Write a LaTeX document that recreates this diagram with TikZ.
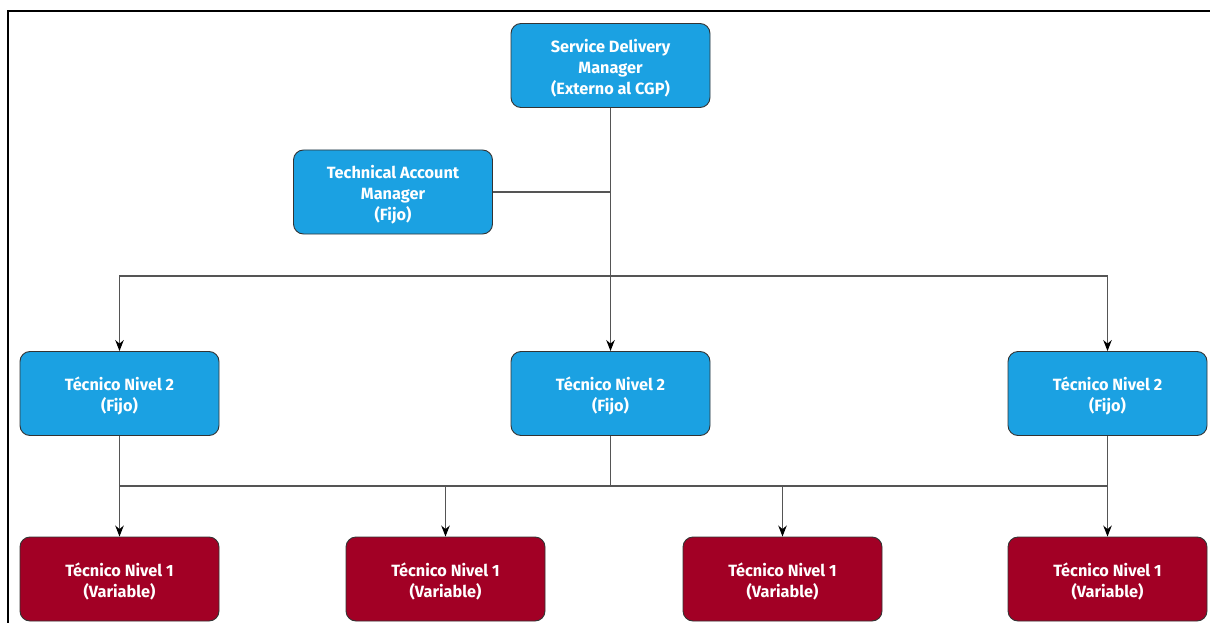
\documentclass[tikz,border=0pt]{standalone}
\usepackage{fontspec}
\setmainfont{Fira Sans}
\usetikzlibrary{arrows.meta}
\definecolor{boxblue}{HTML}{1BA1E2}
\definecolor{boxred}{HTML}{A20025}
\definecolor{edge}{HTML}{333333}
\definecolor{conn}{HTML}{555555}
\newcommand{\topgap}{\rule{0pt}{19pt}}
\begin{document}
\begin{tikzpicture}[x=1pt,y=-1pt,
  box/.style={draw=edge, line width=0.9pt, rounded corners=10pt, minimum width=199pt, minimum height=84pt,
    inner sep=0pt, align=center, text=white, font=\bfseries\fontsize{16.3}{21}\selectfont},
  bluebox/.style={box, fill=boxblue},
  redbox/.style={box, fill=boxred},
  link/.style={draw=conn, line width=1.1pt},
  arr/.style={link, -{Stealth[length=11pt,width=8.5pt,color=black]}}]
\useasboundingbox (0,0) rectangle (1210,623);
\draw[line width=2pt] (8,623) -- (8,11.5) -- (1210,11.5);
\node[bluebox] (sdm) at (610.5,65.5) {\topgap Service Delivery\\Manager\\(Externo al CGP)};
\node[bluebox] (tam) at (393,192) {\topgap Technical Account\\Manager\\(Fijo)};
\node[bluebox] (n2a) at (119.5,393.5) {\topgap Técnico Nivel 2\\(Fijo)};
\node[bluebox] (n2b) at (610.5,393.5) {\topgap Técnico Nivel 2\\(Fijo)};
\node[bluebox] (n2c) at (1107.5,393.5) {\topgap Técnico Nivel 2\\(Fijo)};
\node[redbox] (n1a) at (119.5,579) {\topgap Técnico Nivel 1\\(Variable)};
\node[redbox] (n1b) at (445.5,579) {\topgap Técnico Nivel 1\\(Variable)};
\node[redbox] (n1c) at (782.5,579) {\topgap Técnico Nivel 1\\(Variable)};
\node[redbox] (n1d) at (1107.5,579) {\topgap Técnico Nivel 1\\(Variable)};
\coordinate (j1) at (610.5,276);
\coordinate (j2) at (610.5,486);
\draw[link] (sdm.south) -- (j1);
\draw[link] (tam.east) -- (tam.east -| j1);
\draw[arr] (j1) -- (n2b.north);
\draw[arr] (j1) -| (n2a.north);
\draw[arr] (j1) -| (n2c.north);
\draw[link] (n2a.south) -- (n2a.south |- j2);
\draw[link] (n2b.south) -- (j2);
\draw[link] (n2c.south) -- (n2c.south |- j2);
\draw[arr] (n2a.south |- j2) -- (n1a.north);
\draw[arr] (j2) -| (n1b.north);
\draw[arr] (j2) -| (n1c.north);
\draw[arr] (j2) -| (n1d.north);
\draw[link] (j2) -- (n1a.north |- j2);
\end{tikzpicture}
\end{document}
